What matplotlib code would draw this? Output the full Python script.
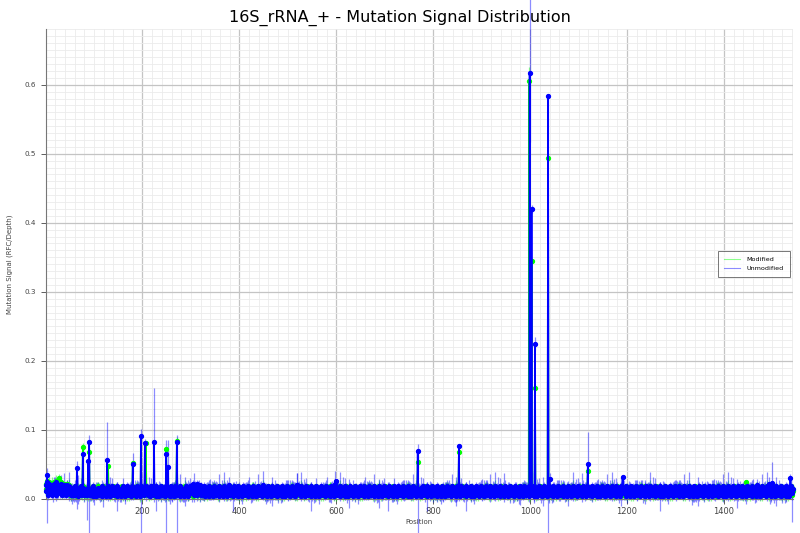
import matplotlib
matplotlib.use("Agg")
import matplotlib.pyplot as plt
import numpy as np
from matplotlib.lines import Line2D
from matplotlib.ticker import MultipleLocator

N_POS = 1542

# baseline signal per position, one base-36 code per nucleotide (value = code * 0.002)
unmod_codes = (
    "6a4c538b47" "5937a46b58" "3c46957a48" "5b37486a59" "4738a56947"
    "5384637459" "3648527436" "4759362847" "5364738254" "6374859263"
    "4536274835" "6473829364" "5738264937" "4628375946" "3748562937"
    "5364728394" "4736285947" "3648572936" "4758362947" "5637284956"
    "4738265947" "3658274936" "5847362958" "4637285946" "3748562937"
    "5463728495" "3746285936" "4857362948" "5364728593" "4736285947"
    "5a47b38a56" "4b37596a48" "3647583926" "5738462957" "4637285946"
    "3758462937" "5648372958" "4736285a47" "3657482936" "5847362958"
    "4637285947" "3748562938" "5463728495" "3746285937" "4857362a48"
    "5364728593" "4736285947" "3648572936" "4758362947" "5637284956"
    "4738265947" "3658274a36" "5847362958" "4637285946" "3748562937"
    "5463728495" "3746285936" "4857362948" "5364728593" "4736285b47"
    "3648572936" "4758362947" "5637284956" "4738265947" "3658274936"
    "5847362958" "4637285946" "3748562937" "5463728495" "3746285936"
    "4857362948" "5364728593" "4736285947" "3648572936" "4758362947"
    "5637284956" "4738265947" "3658274936" "5847362958" "4637285946"
    "3748562937" "5463728495" "3746285936" "4857362948" "5364728593"
    "4736285947" "3648572936" "4758362947" "5637284956" "4738265947"
    "3658274936" "5847362958" "4637285946" "3748562937" "5463728495"
    "3746285936" "4857362948" "5364728593" "4736285947" "3648572936"
    "4758362947" "5637284956" "4738265947" "3658274936" "5847362958"
    "4637285946" "3748562937" "5463728495" "3746285936" "4857362948"
    "5364728593" "4736285947" "3648572936" "4758362947" "5637284956"
    "4738265947" "3658274936" "5847362958" "4637285946" "3748562937"
    "5463728495" "3746285936" "4857362948" "5364728593" "4736285947"
    "3648572936" "4758362947" "5637284956" "4738265947" "3658274936"
    "5847362958" "4637285946" "3748562937" "5463728495" "3746285936"
    "4857362948" "5364728593" "4736285947" "3648572936" "4758362947"
    "5637284956" "4738265947" "3658274936" "5847362958" "4637285946"
    "3748562937" "5463728a95" "3746285936" "4857362948" "5b64728593"
    "4736285947" "3648572936" "4758362947" "563728495647"
)

mod_codes = (
    "7b5d6a4c58" "6a48b57c69" "4d57a68b59" "6c48597b6a" "5849b67a58"
    "3536374859" "4635274836" "4736485937" "5364837364" "4836375948"
    "3647285937" "5748363938" "4637384957" "3536374859" "4635274836"
    "4736485937" "5364837364" "4836375948" "3647285937" "5748363938"
    "4637384957" "3536374859" "4635274836" "4736485937" "5364837364"
    "4836375948" "3647285937" "5748363938" "4637384957" "3536374859"
    "4635274836" "4736485937" "5364837364" "4836375948" "3647285937"
    "5748363938" "4637384957" "3536374859" "4635274836" "4736485937"
    "5364837364" "4836375948" "3647285937" "5748363938" "4637384957"
    "3536374859" "4635274836" "4736485937" "5364837364" "4836375948"
    "3647285937" "5748363938" "4637384957" "3536374859" "4635274836"
    "4736485937" "5364837364" "4836375948" "3647285937" "5748363938"
    "4637384957" "3536374859" "4635274836" "4736485937" "5364837364"
    "4836375948" "3647285937" "5748363938" "4637384957" "3536374859"
    "4635274836" "4736485937" "5364837364" "4836375948" "3647285937"
    "5748363938" "4637384957" "3536374859" "4635274836" "4736485937"
    "5364837364" "4836375948" "3647285937" "5748363938" "4637384957"
    "3536374859" "4635274836" "4736485937" "5364837364" "4836375948"
    "3647285937" "5748363938" "4637384957" "3536374859" "4635274836"
    "4736485937" "5364837364" "4836375948" "3647285937" "5748363938"
    "4637384957" "3536374859" "4635274836" "4736485937" "5364837364"
    "4836375948" "3647285937" "5748363938" "4637384957" "3536374859"
    "4635274836" "4736485937" "5364837364" "4836375948" "3647285937"
    "5748363938" "4637384957" "3536374859" "4635274836" "4736485937"
    "5364837364" "4836375948" "3647285937" "5748363938" "4637384957"
    "3536374859" "4635274836" "4736485937" "5364837364" "4836375948"
    "3647285937" "5748363938" "4637384957" "3536374859" "4635274836"
    "4736485937" "5364837364" "4836375948" "3647285937" "5748363938"
    "4637384957" "3536374859" "4635274836" "4736485937" "5364837364"
    "4836375948" "3647285937" "5748363938" "4637384957" "3536374859"
    "4635274836" "4736485937" "5364837364" "4836375948" "3647285937"
)

# error codes per position (err = code * 0.003)
unmod_err_codes = (
    "2132413213" "1323142315" "3214231324" "2413213612" "1324231723"
    "2315132413" "3142217231" "1234132143" "2132413213" "1323142315"
    "3214231324" "2413213612" "1324231723" "2315132413" "3142217231"
    "1234132143" "2132413213" "1323142315" "3214231324" "2413213612"
    "1324231723" "2315132413" "3142217231" "1234132143" "2132413213"
    "1323142315" "3214231324" "2413213612" "1324231723" "2315132413"
    "3142217231" "1234132143" "2132413213" "1323142315" "3214231324"
    "2413213612" "1324231723" "2315132413" "3142217231" "1234132143"
    "2132413213" "1323142315" "3214231324" "2413213612" "1324231723"
    "2315132413" "3142217231" "1234132143" "2132413213" "1323142315"
    "3214231324" "2413213612" "1324231723" "2315132413" "3142217231"
    "1234132143" "2132413213" "1323142315" "3214231324" "2413213612"
    "1324231723" "2315132413" "3142217231" "1234132143" "2132413213"
    "1323142315" "3214231324" "2413213612" "1324231723" "2315132413"
    "3142217231" "1234132143" "2132413213" "1323142315" "3214231324"
    "2413213612" "1324231723" "2315132413" "3142217231" "1234132143"
    "2132413213" "1323142315" "3214231324" "2413213612" "1324231723"
    "2315132413" "3142217231" "1234132143" "2132413213" "1323142315"
    "3214231324" "2413213612" "1324231723" "2315132413" "3142217231"
    "1234132143" "2132413213" "1323142315" "3214231324" "2413213612"
    "1324231723" "2315132413" "3142217231" "1234132143" "2132413213"
    "1323142315" "3214231324" "2413213612" "1324231723" "2315132413"
    "3142217231" "1234132143" "2132413213" "1323142315" "3214231324"
    "2413213612" "1324231723" "2315132413" "3142217231" "1234132143"
    "2132413213" "1323142315" "3214231324" "2413213612" "1324231723"
    "2315132413" "3142217231" "1234132143" "2132413213" "1323142315"
    "3214231324" "2413213612" "1324231723" "2315132413" "3142217231"
    "1234132143" "2132413213" "1323142315" "3214231324" "2413213612"
    "1324231723" "2315132413" "3142217231" "1234132143" "2132413213"
    "1323142315" "3214231324" "2413213612" "1324231723" "2315132413"
    "3142217231" "1234132143" "2132413213" "1323142315" "3214231324"
)

mod_err_codes = (
    "1213121312" "2131213121" "1312131213" "2121312131" "1213121312"
    "2131213121" "1312131213" "2121312131" "1213121312" "2131213121"
    "1312131213" "2121312131" "1213121312" "2131213121" "1312131213"
    "2121312131" "1213121312" "2131213121" "1312131213" "2121312131"
    "1213121312" "2131213121" "1312131213" "2121312131" "1213121312"
    "2131213121" "1312131213" "2121312131" "1213121312" "2131213121"
    "1312131213" "2121312131" "1213121312" "2131213121" "1312131213"
    "2121312131" "1213121312" "2131213121" "1312131213" "2121312131"
    "1213121312" "2131213121" "1312131213" "2121312131" "1213121312"
    "2131213121" "1312131213" "2121312131" "1213121312" "2131213121"
    "1312131213" "2121312131" "1213121312" "2131213121" "1312131213"
    "2121312131" "1213121312" "2131213121" "1312131213" "2121312131"
    "1213121312" "2131213121" "1312131213" "2121312131" "1213121312"
    "2131213121" "1312131213" "2121312131" "1213121312" "2131213121"
    "1312131213" "2121312131" "1213121312" "2131213121" "1312131213"
    "2121312131" "1213121312" "2131213121" "1312131213" "2121312131"
    "1213121312" "2131213121" "1312131213" "2121312131" "1213121312"
    "2131213121" "1312131213" "2121312131" "1213121312" "2131213121"
    "1312131213" "2121312131" "1213121312" "2131213121" "1312131213"
    "2121312131" "1213121312" "2131213121" "1312131213" "2121312131"
    "1213121312" "2131213121" "1312131213" "2121312131" "1213121312"
    "2131213121" "1312131213" "2121312131" "1213121312" "2131213121"
    "1312131213" "2121312131" "1213121312" "2131213121" "1312131213"
    "2121312131" "1213121312" "2131213121" "1312131213" "2121312131"
    "1213121312" "2131213121" "1312131213" "2121312131" "1213121312"
    "2131213121" "1312131213" "2121312131" "1213121312" "2131213121"
    "1312131213" "2121312131" "1213121312" "2131213121" "1312131213"
    "2121312131" "1213121312" "2131213121" "1312131213" "2121312131"
    "1213121312" "2131213121" "1312131213" "2121312131" "1213121312"
    "2131213121" "1312131213" "2121312131" "1213121312" "2131213121"
    "1312131213" "2121312131" "1213121312" "2131213121" "1312131213"
)

# peaks: position -> signal
unmod_peaks = {
    3: 0.035, 65: 0.045, 77: 0.065, 88: 0.055, 90: 0.082, 127: 0.057,
    180: 0.051, 197: 0.091, 205: 0.081, 224: 0.083, 249: 0.065, 253: 0.046,
    271: 0.083, 519: 0.020, 599: 0.026, 768: 0.070, 853: 0.076,
    999: 0.617, 1003: 0.420, 1010: 0.225, 1037: 0.584, 1040: 0.029,
    1119: 0.050, 1191: 0.032, 1500: 0.023, 1537: 0.030,
}
mod_peaks = {
    13: 0.022, 28: 0.030, 77: 0.075, 90: 0.068, 129: 0.048, 180: 0.052,
    207: 0.081, 249: 0.072, 271: 0.084, 768: 0.054, 853: 0.068,
    998: 0.606, 1003: 0.345, 1010: 0.160, 1037: 0.494, 1119: 0.040,
    1445: 0.024,
}
# notable error bars: position -> (lower, upper)
unmod_err_peaks = {
    3: (0.07, 0.01), 65: (0.06, 0.01), 85: (0.045, 0.01), 90: (0.14, 0.01),
    127: (0.01, 0.055), 197: (0.14, 0.01), 224: (0.01, 0.078),
    249: (0.13, 0.02), 253: (0.01, 0.04), 271: (0.14, 0.01),
    519: (0.01, 0.017), 768: (0.12, 0.01), 999: (0.10, 0.20),
    1007: (0.01, 0.035), 1037: (0.70, 0.0), 1119: (0.01, 0.047),
    1500: (0.01, 0.030), 1540: (0.045, 0.01),
}
mod_err_peaks = {195: (0.01, 0.085), 998: (0.02, 0.02)}


def decode(codes, scale):
    return np.array([int(c, 36) * scale for c in codes])


def build(codes, peaks, err_codes, err_peaks):
    n = min(len(codes), len(err_codes), N_POS)
    vals = decode(codes[:n], 0.002)
    err = decode(err_codes[:n], 0.003)
    lo, hi = err.copy(), err.copy()
    for p, v in peaks.items():
        if p <= n:
            vals[p - 1] = v
    for p, (a, b) in err_peaks.items():
        if p <= n:
            lo[p - 1], hi[p - 1] = a, b
    pos = np.arange(1, n + 1)
    return pos, vals, lo, hi


fig = plt.figure(figsize=(8, 5.33), dpi=100)
ax = fig.add_axes([0.0575, 0.064, 0.9335, 0.882])

series = [
    ("Modified", "lime", mod_codes, mod_peaks, mod_err_codes, mod_err_peaks),
    ("Unmodified", "blue", unmod_codes, unmod_peaks, unmod_err_codes, unmod_err_peaks),
]
for label, color, codes, peaks, ecodes, epeaks in series:
    pos, vals, lo, hi = build(codes, peaks, ecodes, epeaks)
    eb = ax.errorbar(pos, vals, yerr=[lo, hi], fmt="none", ecolor=color,
                     elinewidth=0.9, alpha=0.45, zorder=2)
    for c in eb.lines[2]:
        c.set_clip_on(False)
    ax.plot(pos, vals, "-o", color=color, lw=1.2, ms=2.8, zorder=3,
            clip_on=False)

ax.set_xlim(1, N_POS)
ax.set_ylim(0, 0.681)
ax.xaxis.set_major_locator(MultipleLocator(200))
ax.xaxis.set_minor_locator(MultipleLocator(20))
ax.yaxis.set_major_locator(MultipleLocator(0.1))
ax.yaxis.set_minor_locator(MultipleLocator(0.01))
ax.grid(which="major", color="#c4c4c4", lw=0.9)
ax.grid(which="minor", color="#ebebeb", lw=0.6)
ax.set_axisbelow(True)
for s in ["top", "right"]:
    ax.spines[s].set_visible(False)
for s in ["left", "bottom"]:
    ax.spines[s].set_color("#777777")
ax.tick_params(which="major", colors="#444444", length=3.5, width=0.6)
ax.tick_params(axis="x", labelsize=6, pad=2)
ax.tick_params(axis="y", labelsize=5.2)
ax.tick_params(which="minor", length=0)

# title is centred on the figure, not on the axes
fig.suptitle("16S_rRNA_+ - Mutation Signal Distribution", fontsize=11.5,
             x=0.5, y=0.981, va="top")
ax.set_xlabel("Position", fontsize=5, color="#444444")
ax.set_ylabel("Mutation Signal (RFC/Depth)", fontsize=5, color="#444444")
ax.xaxis.set_label_coords(0.5, -0.043)
ax.yaxis.set_label_coords(-0.044, 0.5)

handles = [Line2D([], [], color="lime", alpha=0.45, lw=0.8),
           Line2D([], [], color="blue", alpha=0.45, lw=0.8)]
leg = ax.legend(handles, ["Modified", "Unmodified"], loc="center right",
                fontsize=4.6, fancybox=False, edgecolor="#555555",
                borderpad=0.9, handlelength=2.6, handletextpad=1.0,
                borderaxespad=0.5)
leg.get_frame().set_linewidth(0.7)

fig.savefig("out.png", dpi=100)
